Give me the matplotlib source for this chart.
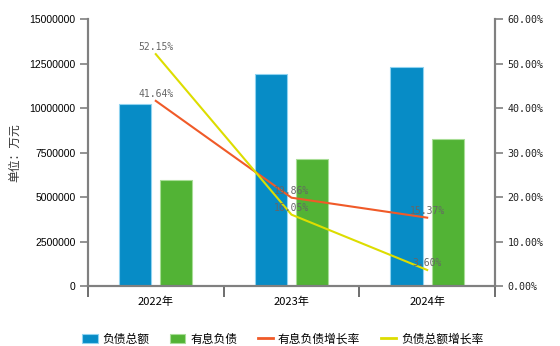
import matplotlib
matplotlib.use("Agg")
import matplotlib.pyplot as plt
from matplotlib.ticker import FuncFormatter, MultipleLocator
from matplotlib.patches import Patch
from matplotlib.lines import Line2D

cjk = ["Noto Sans CJK SC", "DejaVu Sans"]

years = ["2022年", "2023年", "2024年"]
total_debt = [10260000, 11907000, 12336000]      # 负债总额
interest_debt = [5960000, 7144000, 8242000]      # 有息负债
interest_growth = [41.64, 19.86, 15.37]          # 有息负债增长率 (%)
total_growth = [52.15, 16.05, 3.60]              # 负债总额增长率 (%)

blue = "#078cc6"
green = "#52b335"
red = "#f05a28"
yellow = "#dddd00"
axis_gray = "#808080"

fig = plt.figure(figsize=(5.6, 3.46), dpi=100)
ax = fig.add_axes([0.157, 0.1734, 0.727, 0.771])
ax2 = ax.twinx()

x = list(range(len(years)))
w = 0.237
off = 0.152
ax.bar([i - off for i in x], total_debt, w, color=blue, edgecolor="#8fd3f0", linewidth=0.8, zorder=2)
ax.bar([i + off for i in x], interest_debt, w, color=green, edgecolor="#a8dd96", linewidth=0.8, zorder=2)

ax.set_xlim(-0.5, 2.5)
ax.set_ylim(0, 15000000)
ax.yaxis.set_major_locator(MultipleLocator(2500000))
ax.yaxis.set_major_formatter(FuncFormatter(lambda v, p: f"{int(v)}"))
ax.set_xticks(x)
ax.set_xticklabels(years, fontfamily=cjk, fontsize=8)
ax.set_xticks([-0.5, 0.5, 1.5, 2.5], minor=True)
ax.tick_params(axis="x", which="major", length=0, pad=8)
ax.tick_params(axis="x", which="minor", length=8, width=1.2, color="#555555", direction="out")
ax.tick_params(axis="y", length=6, width=1.2, color=axis_gray, labelsize=7.5, pad=3)
for lbl in ax.get_yticklabels():
    lbl.set_fontfamily("Liberation Sans")
ax.set_ylabel("单位：万元", fontfamily=cjk, fontsize=8.5, labelpad=6, color="#333333")

ax2.set_ylim(0, 60)
ax2.yaxis.set_major_locator(MultipleLocator(10))
ax2.yaxis.set_major_formatter(FuncFormatter(lambda v, p: f"{v:.2f}%"))
ax2.tick_params(axis="y", length=6, width=1.2, color=axis_gray, labelsize=7.2, pad=3)
for lbl in ax2.get_yticklabels():
    lbl.set_fontfamily("DejaVu Sans Mono")
    lbl.set_color("#222222")

ax2.plot(x, interest_growth, color=red, linewidth=1.5, zorder=3)
ax2.plot(x, total_growth, color=yellow, linewidth=1.5, zorder=3)
for series in (interest_growth, total_growth):
    for i, v in zip(x, series):
        ax2.annotate(f"{v:.2f}%", (i, v), xytext=(0, 5), textcoords="offset points",
                     ha="center", va="center", fontsize=7, color="#666666",
                     fontfamily="DejaVu Sans Mono", zorder=4)

for a in (ax, ax2):
    a.spines["top"].set_visible(False)
    for s in ("left", "right", "bottom"):
        a.spines[s].set_color(axis_gray)
        a.spines[s].set_linewidth(1.5)
ax.set_zorder(ax2.get_zorder() - 1)
ax.patch.set_visible(False)

handles = [
    Patch(facecolor=blue, edgecolor="#8fd3f0", linewidth=0.8),
    Patch(facecolor=green, edgecolor="#a8dd96", linewidth=0.8),
    Line2D([], [], color=red, linewidth=2),
    Line2D([], [], color=yellow, linewidth=2),
]
labels = ["负债总额", "有息负债", "有息负债增长率", "负债总额增长率"]
fig.legend(handles, labels, loc="center", bbox_to_anchor=(0.505, 0.02), ncol=4, frameon=False,
           prop={"family": cjk, "size": 8.5}, handlelength=1.3, handleheight=0.9,
           columnspacing=1.75, handletextpad=0.4)

fig.savefig("out.png", dpi=100, facecolor="white")
